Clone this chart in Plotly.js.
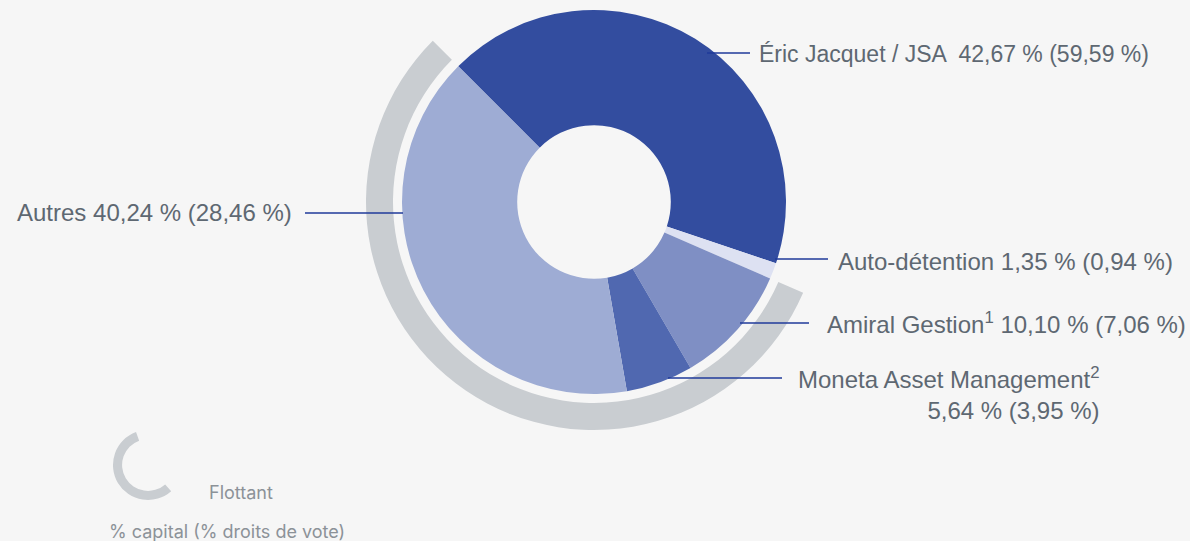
<!DOCTYPE html>
<html>
<head>
<meta charset="utf-8">
<script src="https://cdn.plot.ly/plotly-3.0.1.min.js"></script>
<style>
  html, body { margin:0; padding:0; background:#f6f6f6; overflow:hidden; }
  #chart { position:absolute; left:0; top:-30px; width:1190px; height:571px; }
</style>
</head>
<body>
<div id="chart"></div>
<script>

/* ==========================================
   DATA
========================================== */

const holders = ["Éric Jacquet / JSA", "Auto-détention", "Amiral Gestion", "Moneta Asset Management", "Autres"];

const capital = [42.67, 1.35, 10.10, 5.64, 40.24];

const votingRights = [59.59, 0.94, 7.06, 3.95, 28.46];

const sliceColors = ["#334d9f", "#dde1f2", "#7f8fc4", "#5068b0", "#9eacd4"];

// floating = Amiral + Moneta + Autres
const floatingIdx = [2, 3, 4];


/* ==========================================
   HELPERS (page pixels -> paper coords)
========================================== */

const W = 1190, H = 571, OFF = 30;

function px(x){ return x / W; }

function py(y){ return 1 - (y + OFF) / H; }

function fmt(v){ return v.toFixed(2).replace(".", ","); }

function domainAt(cx, cy, r){
    return {
        x:[px(cx - r), px(cx + r)],
        y:[py(cy + r), py(cy - r)]
    };
}


/* ==========================================
   TRACES
========================================== */

const floating = floatingIdx.reduce((s,i)=>s + capital[i], 0);

const ringValues = [100 - floating, floating];

const cx = 594, cy = 202;

const mainPie = {
    type:"pie",
    values:capital,
    labels:holders,
    sort:false,
    direction:"clockwise",
    rotation:-45,
    hole:0.40,
    marker:{ colors:sliceColors, line:{width:0} },
    textinfo:"none",
    hoverinfo:"label+value",
    domain:domainAt(cx, cy, 192)
};

const floatRing = {
    type:"pie",
    values:ringValues,
    labels:["non flottant", "Flottant"],
    sort:false,
    direction:"clockwise",
    rotation:-45,
    hole:201/228,
    marker:{ colors:["rgba(0,0,0,0)", "#c9cdd1"], line:{width:0} },
    textinfo:"none",
    hoverinfo:"skip",
    domain:domainAt(cx, cy, 228)
};

const legendRing = {
    type:"pie",
    values:ringValues,
    labels:["non flottant", "Flottant"],
    sort:false,
    direction:"clockwise",
    rotation:-20,
    hole:0.74,
    marker:{ colors:["rgba(0,0,0,0)", "#c9cdd1"], line:{width:0} },
    textinfo:"none",
    hoverinfo:"skip",
    domain:domainAt(148, 465, 35)
};


/* ==========================================
   LABELS + LEADER LINES
========================================== */

const labelFont = { family:"Liberation Sans, Arial, sans-serif", size:24, color:"#5e6872" };

const legendFont = { family:"Inter, sans-serif", size:18, color:"#8c9298" };

const lineColor = "#1f3a9a";

function label(text, x, y, xanchor, align, size){
    return {
        xref:"paper", yref:"paper",
        x:px(x), y:py(y),
        xanchor:xanchor, yanchor:"middle",
        align:align || "left",
        text:text,
        showarrow:false,
        font:Object.assign({}, labelFont, size ? {size:size} : {})
    };
}

function leader(x0, x1, y){
    return {
        type:"line", xref:"paper", yref:"paper",
        x0:px(x0), x1:px(x1), y0:py(y), y1:py(y),
        line:{ color:lineColor, width:1.5 }
    };
}

const annotations = [
    label(holders[0] + "  " + fmt(capital[0]) + " % (" + fmt(votingRights[0]) + " %)", 757, 54, "left", "left", 23),
    label(holders[1] + " " + fmt(capital[1]) + " % (" + fmt(votingRights[1]) + " %)", 836, 261, "left"),
    label(holders[2] + "<sup>1</sup> " + fmt(capital[2]) + " % (" + fmt(votingRights[2]) + " %)", 825, 323, "left"),
    label(holders[3] + "<sup>2</sup><br>" + fmt(capital[3]) + " % (" + fmt(votingRights[3]) + " %)", 1102, 393, "right", "right"),
    label(holders[4] + " " + fmt(capital[4]) + " % (" + fmt(votingRights[4]) + " %)", 294, 213, "right"),
    {
        xref:"paper", yref:"paper", x:px(207), y:py(492),
        xanchor:"left", yanchor:"middle", showarrow:false,
        text:"Flottant",
        font:legendFont
    },
    {
        xref:"paper", yref:"paper", x:px(107), y:py(531),
        xanchor:"left", yanchor:"middle", showarrow:false,
        text:"% capital (% droits de vote)",
        font:legendFont
    }
];

const shapes = [
    leader(707, 750, 53),
    leader(775, 828, 259),
    leader(740, 809, 323),
    leader(668, 782, 378),
    leader(305, 403, 213)
];


/* ==========================================
   DRAW
========================================== */

Plotly.newPlot(
    "chart",
    [floatRing, mainPie, legendRing],
    {
        width:W,
        height:H,
        margin:{ l:0, r:0, t:0, b:0 },
        paper_bgcolor:"#f6f6f6",
        plot_bgcolor:"#f6f6f6",
        showlegend:false,
        annotations:annotations,
        shapes:shapes
    },
    { displayModeBar:false, staticPlot:true }
);

</script>
</body>
</html>
